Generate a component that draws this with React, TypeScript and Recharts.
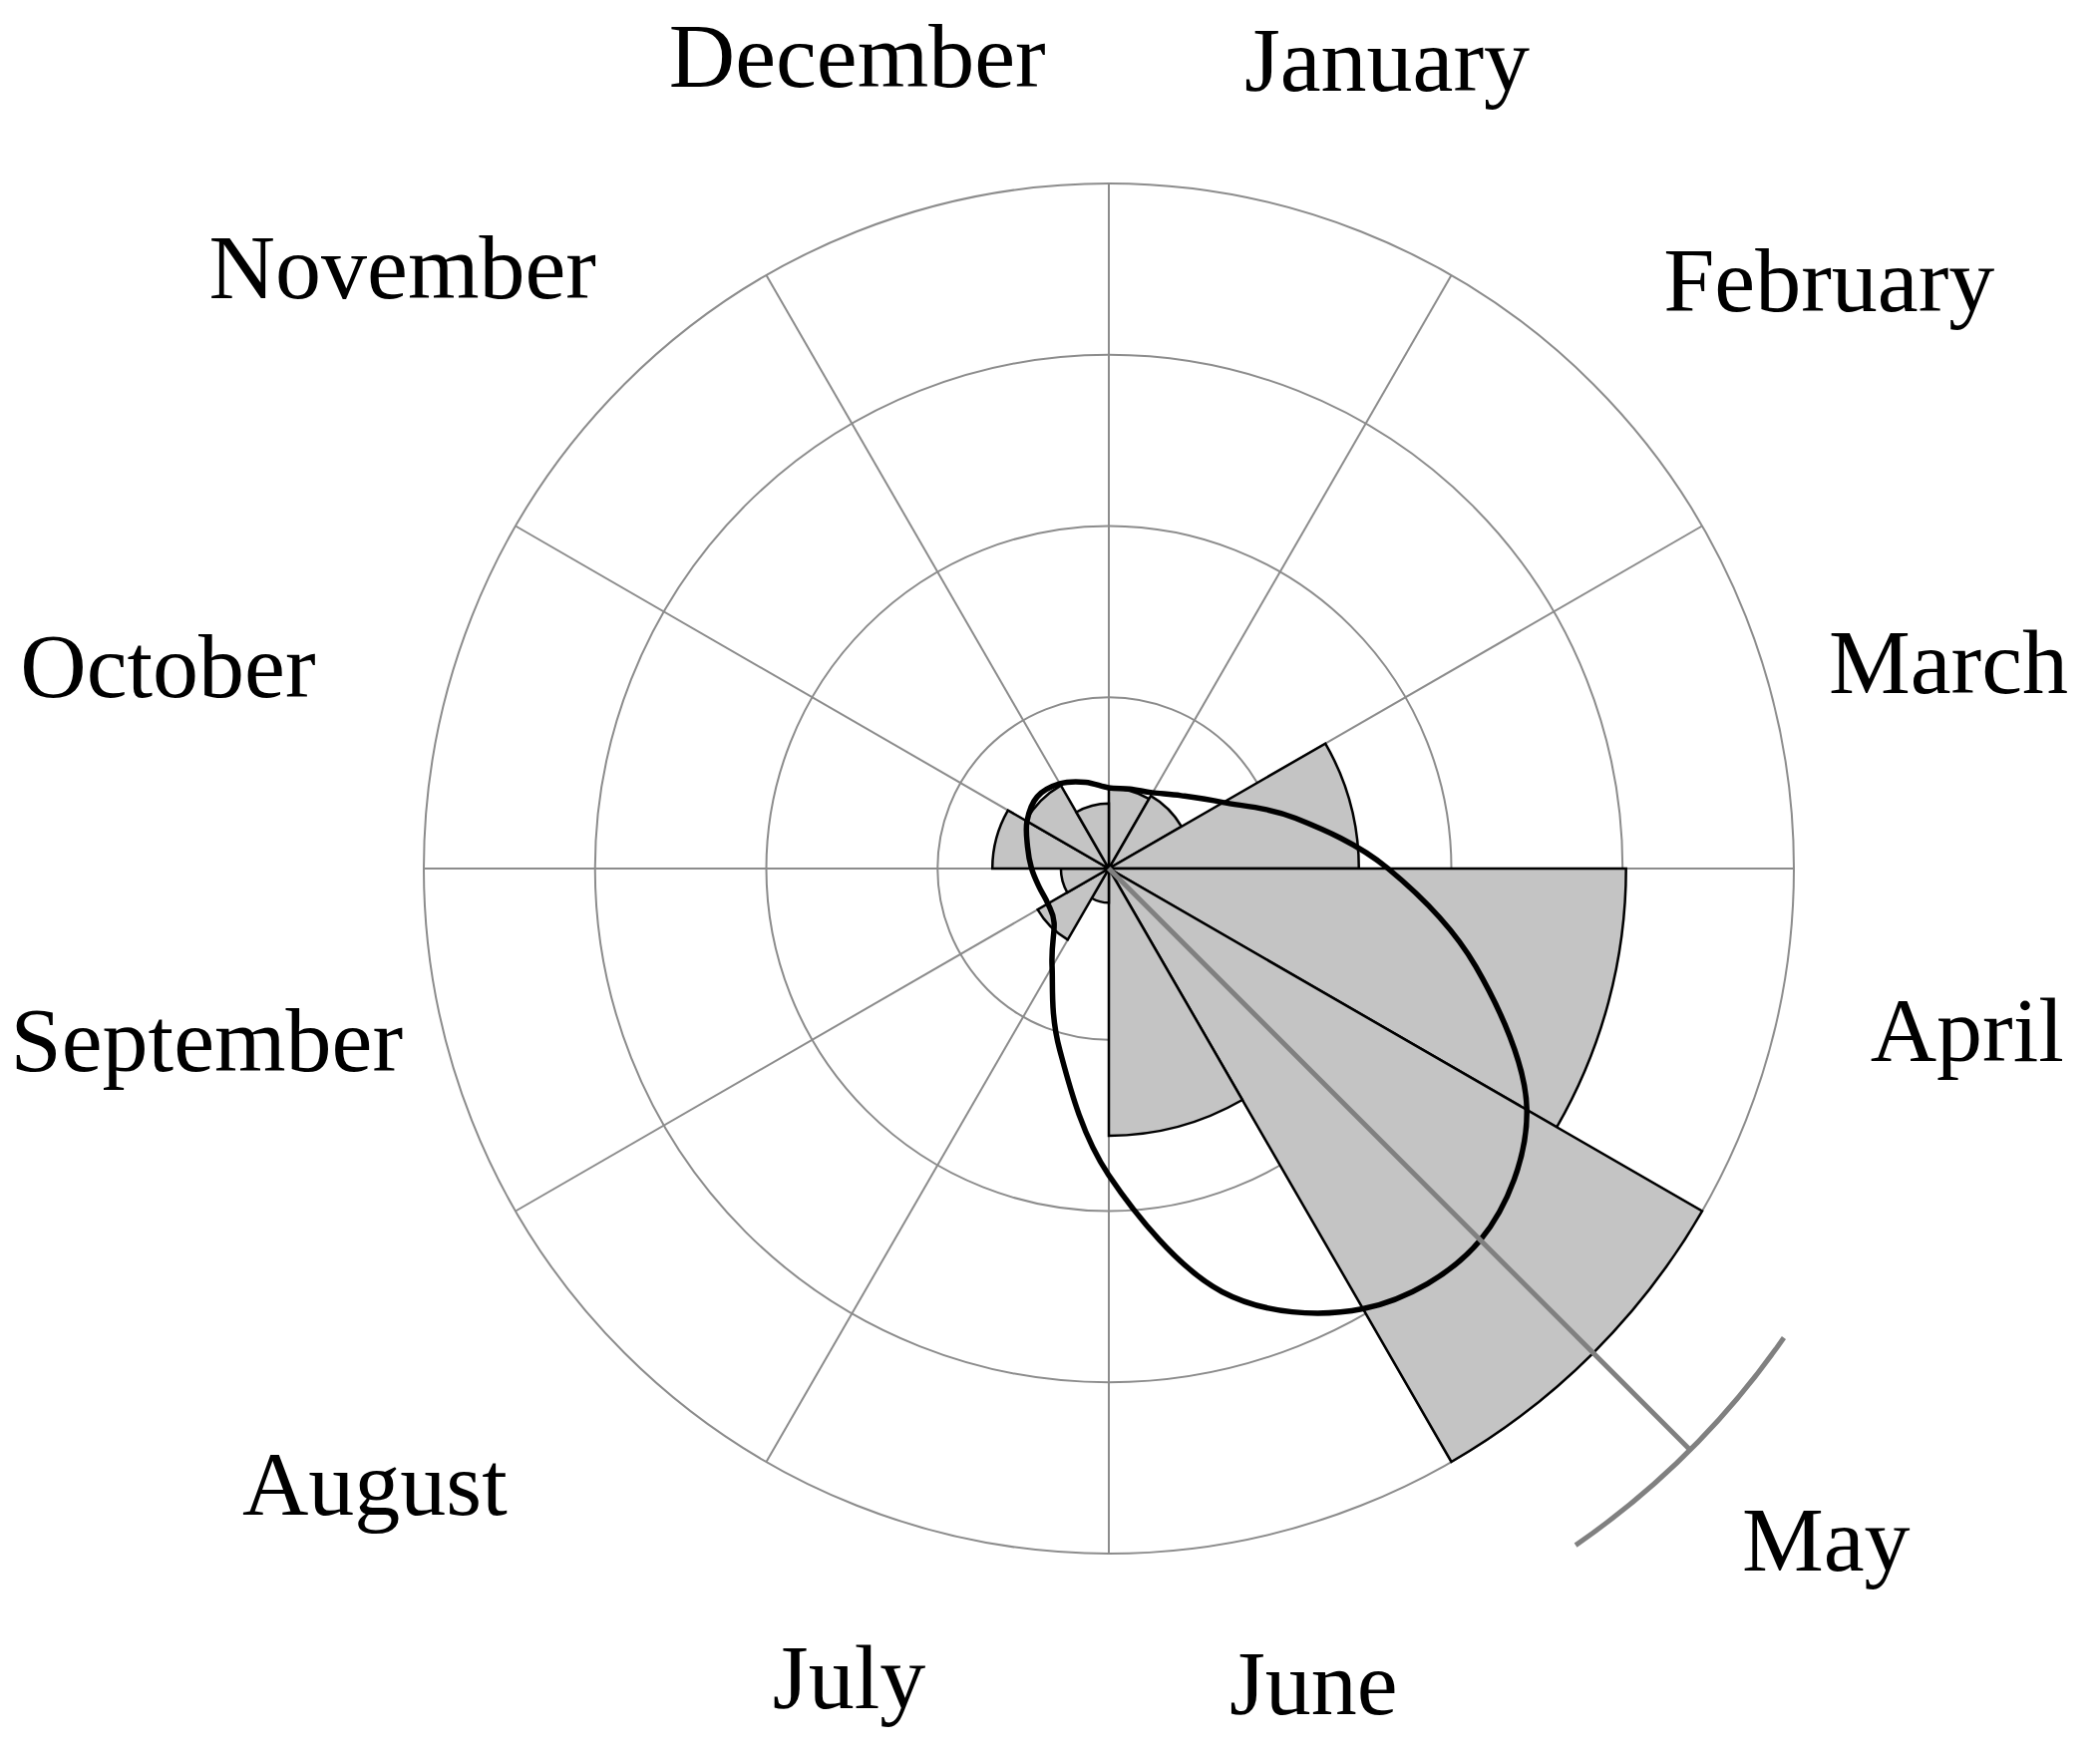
import {
  RadialBarChart,
  RadialBar,
  PolarGrid,
  PolarAngleAxis,
  PolarRadiusAxis,
  ComposedChart,
  Line,
  XAxis,
  YAxis,
  PieChart,
  Pie,
} from 'recharts'

// month sectors, clockwise from north
const months = [
  'January',
  'February',
  'March',
  'April',
  'May',
  'June',
  'July',
  'August',
  'September',
  'October',
  'November',
  'December',
]
// sector radius in grid rings
const frequency = [0.47, 0.49, 1.46, 3.02, 4.0, 1.56, 0.2, 0.48, 0.28, 0.68, 0.56, 0.38]
const gridRings = [1, 2, 3, 4]

// density outline, read every 15 degrees
const curveAngles = [0, 15, 30, 45, 60, 75, 90, 105, 120, 135, 150, 165, 180, 195, 210, 225, 240, 255, 270, 285, 300, 315, 330, 345]
const curveRadius = [0.47, 0.48, 0.51, 0.6, 0.77, 1.13, 1.63, 2.22, 2.82, 3.07, 2.97, 2.56, 1.79, 1.1, 0.66, 0.45, 0.41, 0.42, 0.45, 0.49, 0.55, 0.59, 0.57, 0.52]

// mean direction and its confidence arc
const meanAngle = 135
const meanLength = 4.8
const ciLow = 124.8
const ciHigh = 145.4

const W = 2098
const H = 1757
const CX = 1112
const CY = 871
const R = 687
const UNIT = R / 4
const SPAN = 5
const FONT = 92
const CAP = 61
const SERIF = '"Liberation Serif", "Times New Roman", serif'

// label centre: [bearing in degrees, distance in px] (hand placed in the original)
const labelSpot: Record<string, [number, number]> = {
  January: [19, 857],
  February: [50.8, 932],
  March: [76.2, 867],
  April: [100.7, 876],
  May: [133.1, 985],
  June: [165.9, 843],
  July: [197.8, 852],
  August: [230, 961],
  September: [259.2, 921],
  October: [282.1, 965],
  November: [310.4, 930],
  December: [342.8, 853],
}

const rad = (deg: number) => (deg * Math.PI) / 180

const roseData = months.map((month, i) => ({ month, value: frequency[i] }))
const curveData = curveAngles.map((a, i) => ({
  x: curveRadius[i] * Math.sin(rad(a)),
  y: curveRadius[i] * Math.cos(rad(a)),
}))
const meanData = [
  { x: 0, y: 0 },
  { x: meanLength * Math.sin(rad(meanAngle)), y: meanLength * Math.cos(rad(meanAngle)) },
]
const step = 360 / months.length
const sectorEdges = months.map((_, i) => 90 - i * step)

// closed Catmull-Rom curve, passes through every point
function closedSpline(context: any) {
  const pts: number[][] = []
  return {
    areaStart() {},
    areaEnd() {},
    lineStart() {
      pts.length = 0
    },
    point(x: number, y: number) {
      pts.push([+x, +y])
    },
    lineEnd() {
      const n = pts.length
      if (!n) return
      context.moveTo(pts[0][0], pts[0][1])
      for (let i = 0; i < n; i++) {
        const p0 = pts[(i - 1 + n) % n]
        const p1 = pts[i]
        const p2 = pts[(i + 1) % n]
        const p3 = pts[(i + 2) % n]
        context.bezierCurveTo(
          p1[0] + (p2[0] - p0[0]) / 6,
          p1[1] + (p2[1] - p0[1]) / 6,
          p2[0] - (p3[0] - p1[0]) / 6,
          p2[1] - (p3[1] - p1[1]) / 6,
          p2[0],
          p2[1],
        )
      }
      context.closePath()
    },
  }
}

function MonthTick(props: any) {
  const label = props.payload?.value as string
  const i = months.indexOf(label)
  const [bearing, d] = labelSpot[label] ?? [(i + 0.5) * step, 860]
  const a = rad(bearing)
  return (
    <text
      x={CX + d * Math.sin(a)}
      y={CY - d * Math.cos(a) + CAP / 2}
      textAnchor="middle"
      fontSize={FONT}
      fontFamily={SERIF}
      fill="#000"
    >
      {label}
    </text>
  )
}

export default function App() {
  const S = SPAN * 2 * UNIT
  return (
    <div
      style={{
        position: 'relative',
        width: W,
        height: H,
        margin: '-8px 0 0 -8px',
        overflow: 'hidden',
        background: '#fff',
      }}
    >
      <RadialBarChart
        width={W}
        height={H}
        data={roseData}
        cx={CX}
        cy={CY}
        innerRadius={0}
        outerRadius={R}
        startAngle={90 - step}
        endAngle={-270 - step}
        layout="centric"
        barCategoryGap={0}
        barGap={0}
        margin={{ top: 0, right: 0, bottom: 0, left: 0 }}
      >
        <PolarGrid
          gridType="circle"
          polarRadius={gridRings.map((v) => v * UNIT)}
          polarAngles={sectorEdges}
          stroke="#8c8c8c"
          strokeWidth={2}
        />
        <PolarAngleAxis type="category" dataKey="month" tick={MonthTick} axisLine={false} tickLine={false} />
        <PolarRadiusAxis type="number" domain={[0, 4]} tick={false} axisLine={false} />
        <RadialBar dataKey="value" fill="#c4c4c4" stroke="#000" strokeWidth={2.5} isAnimationActive={false} />
      </RadialBarChart>

      <div style={{ position: 'absolute', left: CX - S / 2, top: CY - S / 2 }}>
        <ComposedChart width={S} height={S} data={curveData} margin={{ top: 0, right: 0, bottom: 0, left: 0 }}>
          <XAxis type="number" dataKey="x" domain={[-SPAN, SPAN]} allowDataOverflow hide />
          <YAxis type="number" domain={[-SPAN, SPAN]} allowDataOverflow hide />
          <Line
            dataKey="y"
            type={closedSpline as any}
            stroke="#000"
            strokeWidth={5.5}
            dot={false}
            isAnimationActive={false}
          />
          <Line
            data={meanData}
            dataKey="y"
            type="linear"
            stroke="#808080"
            strokeWidth={5}
            dot={false}
            isAnimationActive={false}
          />
        </ComposedChart>
      </div>

      <div style={{ position: 'absolute', left: 0, top: 0 }}>
        <PieChart width={W} height={H} margin={{ top: 0, right: 0, bottom: 0, left: 0 }}>
          <Pie
            data={[{ value: 1 }]}
            dataKey="value"
            cx={CX}
            cy={CY}
            startAngle={90 - ciLow}
            endAngle={90 - ciHigh}
            innerRadius={meanLength * UNIT - 2.5}
            outerRadius={meanLength * UNIT + 2.5}
            fill="#808080"
            stroke="none"
            isAnimationActive={false}
          />
        </PieChart>
      </div>
    </div>
  )
}
